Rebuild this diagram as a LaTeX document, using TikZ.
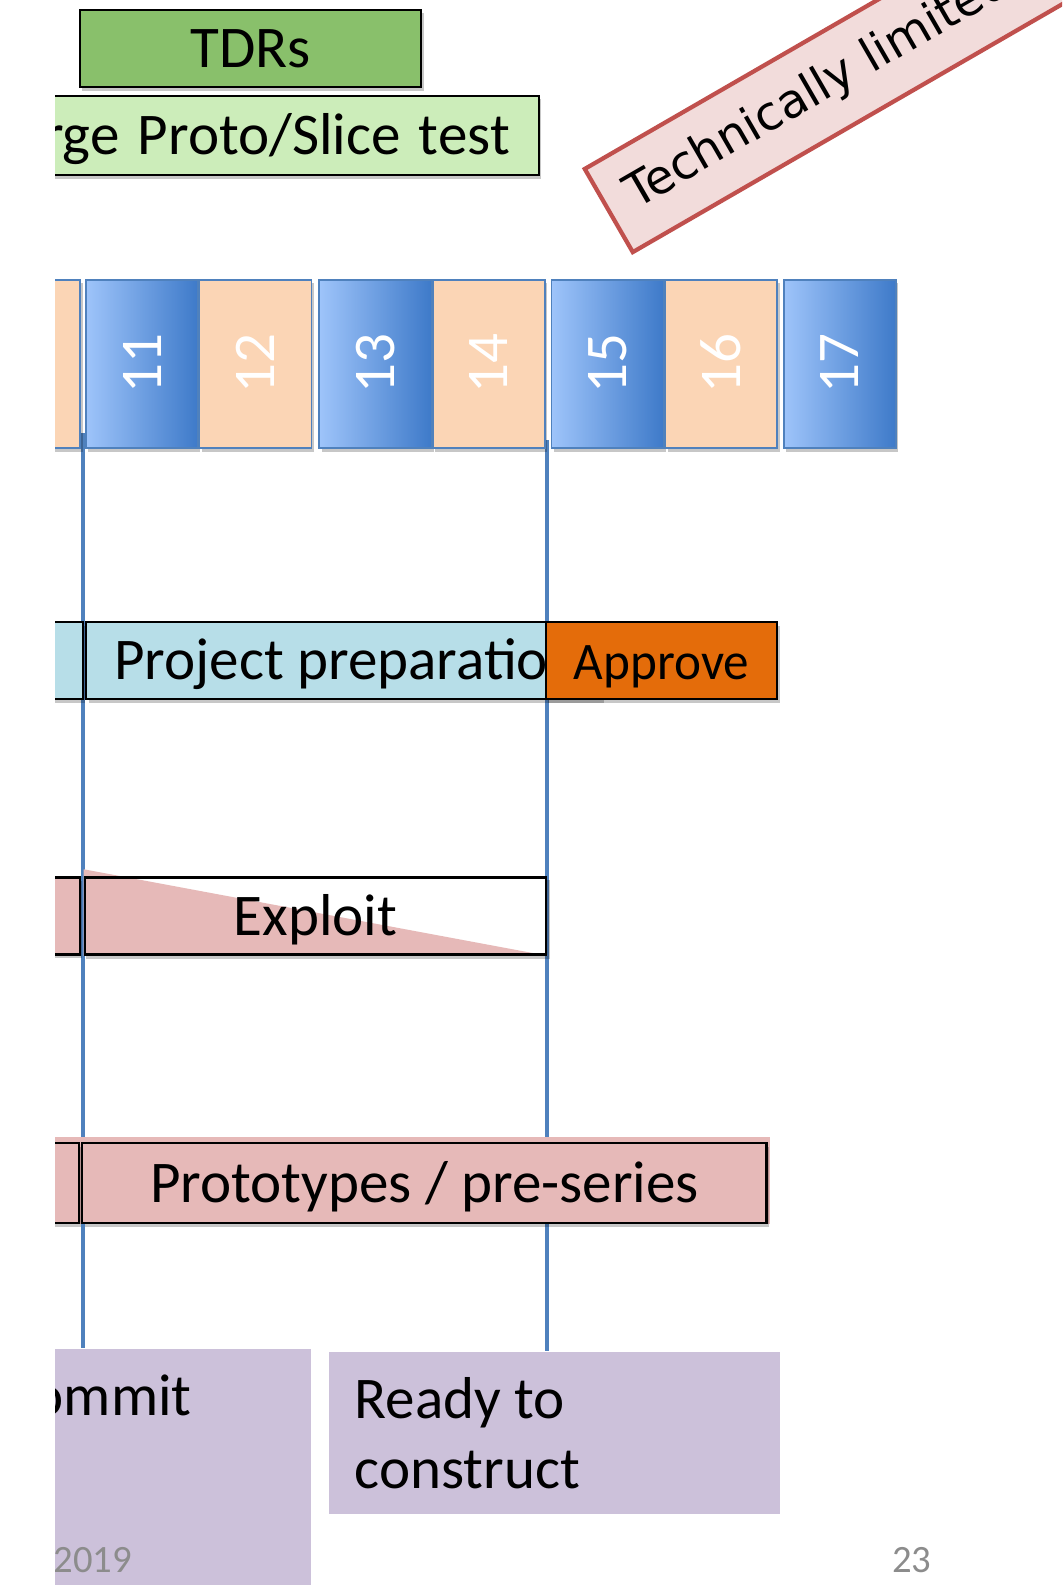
\documentclass[tikz,border=0pt]{standalone}
\usepackage{graphicx}
\usepackage{fontspec}
\setmainfont{Carlito}
\newfontfamily\techfont{DejaVu Sans}
\usepackage{tikz}
\usetikzlibrary{positioning,shadows,backgrounds}
\definecolor{tdrgreen}{HTML}{89C06B}
\definecolor{slicegreen}{HTML}{CCEDBA}
\definecolor{cellpeach}{HTML}{FBD5B5}
\definecolor{celllight}{HTML}{9EC4FA}
\definecolor{celldark}{HTML}{3E7AC9}
\definecolor{stoneblue}{HTML}{4F81BD}
\definecolor{prepblue}{HTML}{B7DEE8}
\definecolor{approveorange}{HTML}{E46C0A}
\definecolor{phasepink}{HTML}{E6B9B8}
\definecolor{techred}{HTML}{C0504D}
\definecolor{techfill}{HTML}{F2DCDB}
\definecolor{milepurple}{HTML}{CCC1DA}
\definecolor{footgray}{HTML}{8C8C8C}
\newcommand{\slidefont}{\fontsize{16.8}{19.9}\selectfont}
\newcommand{\footfont}{\fontsize{11}{13}\selectfont}
\newcommand{\natspace}{\spaceskip=0pt\xspaceskip=0pt\relax}

\begin{document}
\begin{tikzpicture}[
  x=0.01cm, y=-0.01cm,
  font=\slidefont,
  softshadow/.style={drop shadow={shadow xshift=0.7pt, shadow yshift=-1pt, opacity=0.22, fill=black}},
  phase/.style={rectangle, draw=black, line width=0.7pt, inner sep=0pt, minimum height=0.77cm,
                text height=0.5cm, text depth=0.12cm},
  cell/.style={rectangle, draw=stoneblue, line width=0.45pt, inner sep=0pt,
               minimum width=1.12cm, minimum height=1.68cm, text=white, softshadow},
  oddcell/.style={cell, left color=celllight, right color=celldark},
  evencell/.style={cell, fill=cellpeach},
  milestone/.style={draw=stoneblue, line width=1.4pt},
  milebox/.style={rectangle, fill=milepurple, inner sep=0pt},
  techbox/.style={rectangle, draw=techred, fill=techfill, line width=1.2pt,
                  font=\techfont\fontsize{13.4}{16}\selectfont, minimum height=0.96cm,
                  inner xsep=0.24cm, inner ysep=0pt, text width=9cm, align=left},
  footer/.style={font=\footfont, text=footgray, inner sep=0pt},
]
\useasboundingbox (0,0) rectangle (1062,1585);
\begin{scope}
\clip (55,0) rectangle (1062,1585);
% ----- reviews -----
\node[phase, fill=tdrgreen, softshadow, minimum width=3.41cm] (tdr) at (250.5,48.5) {TDRs};
\node[phase, fill=slicegreen, softshadow, anchor=east, minimum height=0.79cm,
      text width=5.5cm, align=right, inner xsep=0.29cm] (slice) at (540,135.5) {\natspace rge Proto/Slice test};
\node[techbox, rotate=30, anchor=south west] (tech) at (632,255) {Technically limited};
% ----- year cells -----
\node[evencell, anchor=east] (cellprev) at (81,364) {};
\node[oddcell] (c11) at (142,364) {\rotatebox{90}{11}};
\node[evencell, right=0pt of c11] (c12) {\rotatebox{90}{12}};
\node[oddcell, right=0.06cm of c12] (c13) {\rotatebox{90}{13}};
\node[evencell, right=0pt of c13] (c14) {\rotatebox{90}{14}};
\node[oddcell, right=0.05cm of c14] (c15) {\rotatebox{90}{15}};
\node[evencell, right=0pt of c15] (c16) {\rotatebox{90}{16}};
\node[oddcell, right=0.05cm of c16] (c17) {\rotatebox{90}{17}};
% ----- project preparation -----
\node[phase, fill=prepblue, softshadow, anchor=east, minimum width=1.4cm] (prepleft) at (84,660.5) {};
\node[phase, fill=prepblue, softshadow, anchor=west, text width=4.59cm, align=left,
      inner xsep=0.28cm] (prep) at (85,660.5) {\natspace\mbox{Project preparation}};
\node[phase, fill=approveorange, softshadow, minimum width=2.31cm,
      font=\fontsize{15}{18}\selectfont] (approve) at (661.5,660.5) {\scalebox{0.97}[1]{Approve}};
% ----- exploit -----
\node[phase, fill=phasepink, softshadow, anchor=east, minimum width=1.4cm] (exploitleft) at (81,916) {};
\node[phase, minimum width=4.61cm] (exploit) at (315.5,916) {Exploit};
% ----- prototypes -----
\node[phase, fill=phasepink, softshadow, anchor=east, minimum width=1.4cm, minimum height=0.8cm] (protoleft) at (80,1183) {};
\node[phase, fill=phasepink, softshadow, anchor=west, minimum width=6.84cm, minimum height=0.8cm] (proto) at (81,1183) {Prototypes / pre-series};
% ----- milestones -----
\node[milebox, anchor=north west, minimum width=3.04cm, minimum height=2.6cm] (commit) at (6,1348) {};
\node[anchor=base west, inner sep=0pt] (committxt) at ([shift={(26,67)}]commit.north west) {ommit};
\node[milebox, anchor=north west, minimum width=4.51cm, minimum height=1.62cm,
      text width=3.99cm, align=left, inner xsep=0.26cm] (ready) at (328,1351) {\natspace Ready to\\construct};
\coordinate (gate1) at (83,433);
\coordinate (gate2) at (547,440);
% ----- footer -----
\node[footer, anchor=base west] (date) at (53,1572) {2019};
\node[footer, anchor=base east] (page) at (932,1572) {23};
\end{scope}
% ----- behind the bars -----
\begin{scope}[on background layer]
\clip (55,0) rectangle (1062,1585);
\draw[milestone] (gate1) -- (gate1 |- commit.north);
\draw[milestone] (gate2) -- (gate2 |- ready.north);
\fill[white, softshadow] (exploit.north west) rectangle (exploit.south east);
\fill[phasepink] ([yshift=0.07cm]exploit.north west) -- (exploit.south west) -- (exploit.south east) -- cycle;
\fill[phasepink] ([yshift=0.05cm]protoleft.north west) rectangle ([xshift=0.02cm]proto.south east);
\end{scope}
\end{tikzpicture}
\end{document}
